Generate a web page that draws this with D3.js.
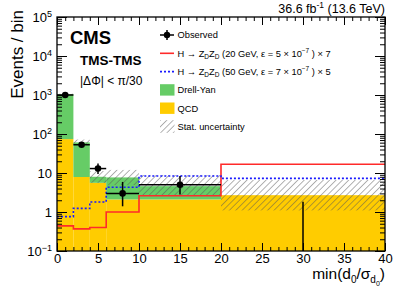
<!DOCTYPE html>
<html>
<head>
<meta charset="utf-8">
<script src="https://cdn.jsdelivr.net/npm/d3@7"></script>
<style>
  body { margin: 0; background: #fff; }
  text { font-family: "Liberation Sans", Arial, sans-serif; fill: #000; }
</style>
</head>
<body>
<script>
// bin edges of min(d0/sigma_d0)
var binEdges = [0, 2, 4, 6, 10, 20, 40];
// stacked backgrounds (events / bin)
var qcd = [74, 7.9, 5.6, 2.1, 2.1, 2.7];
var drellYan = [976, 53, 2.4, 5.6, 2.5, 0];
// stat. uncertainty band on total background
var statLo = [1020, 52, 5.6, 4.9, 2.7, 1.1];
var statHi = [1080, 72, 11.2, 12, 8.9, 6.6];
// signals
var sig20 = [0.44, 0.37, 0.40, 1.0, 2.6, 16.7];
var sig50 = [0.76, 1.24, 1.8, 4.3, 8.4, 7.3];
// observed data
var obsX = [1, 3, 5, 8, 15, 30];
var obsY = [1000, 53, 13, 3, 5, 0];
var obsDn = [968, 46, 9.4, 1.4, 2.8, 0];
var obsUp = [1032, 61, 17.6, 5.9, 8.4, 1.84];

var yDecades = [-1, 0, 1, 2, 3, 4, 5];
var xTicks = [0, 5, 10, 15, 20, 25, 30, 35, 40];

var W = 402, H = 289;
var pL = 57, pR = 385, pT = 17, pB = 251;

var x = d3.scaleLinear().domain([0, 40]).range([pL, pR]);
var y = d3.scaleLog().domain([0.1, 1e5]).range([pB, pT]);

var svg = d3.select("body").append("svg")
    .attr("width", W).attr("height", H);

var defs = svg.append("defs");
defs.append("clipPath").attr("id", "plotclip")
  .append("rect").attr("x", pL).attr("y", pT)
  .attr("width", pR - pL).attr("height", pB - pT);

var pat = defs.append("pattern").attr("id", "hatch")
    .attr("patternUnits", "userSpaceOnUse")
    .attr("width", 4.5).attr("height", 4.5)
    .attr("patternTransform", "rotate(45)");
pat.append("line").attr("x1", 0).attr("y1", 0).attr("x2", 0).attr("y2", 4.5)
    .attr("stroke", "#555").attr("stroke-width", 0.9);

var plot = svg.append("g").attr("clip-path", "url(#plotclip)");

var bins = d3.range(qcd.length).map(function(i) {
  return {x0: binEdges[i], x1: binEdges[i + 1], qcd: qcd[i], dy: drellYan[i],
          lo: statLo[i], hi: statHi[i]};
});

// QCD
plot.selectAll(".qcd").data(bins).enter().append("rect")
    .attr("x", function(d) { return x(d.x0); })
    .attr("width", function(d) { return x(d.x1) - x(d.x0); })
    .attr("y", function(d) { return y(d.qcd); })
    .attr("height", function(d) { return y(0.1) - y(d.qcd); })
    .attr("fill", "#ffcc00");

// Drell-Yan stacked on QCD
plot.selectAll(".dy").data(bins.filter(function(d) { return d.dy > 0; })).enter().append("rect")
    .attr("x", function(d) { return x(d.x0); })
    .attr("width", function(d) { return x(d.x1) - x(d.x0); })
    .attr("y", function(d) { return y(d.qcd + d.dy); })
    .attr("height", function(d) { return y(d.qcd) - y(d.qcd + d.dy); })
    .attr("fill", "#66cc66");

// stat. uncertainty
plot.selectAll(".stat").data(bins).enter().append("rect")
    .attr("x", function(d) { return x(d.x0); })
    .attr("width", function(d) { return x(d.x1) - x(d.x0); })
    .attr("y", function(d) { return y(d.hi); })
    .attr("height", function(d) { return y(d.lo) - y(d.hi); })
    .attr("fill", "url(#hatch)");

// signal step lines
function steps(vals) {
  var pts = vals.map(function(v, i) { return [binEdges[i], v]; });
  pts.push([binEdges[binEdges.length - 1], vals[vals.length - 1]]);
  return pts;
}
var stepLine = d3.line()
    .x(function(d) { return x(d[0]); })
    .y(function(d) { return y(d[1]); })
    .curve(d3.curveStepAfter);

plot.append("path").datum(steps(sig20))
    .attr("d", stepLine).attr("fill", "none")
    .attr("stroke", "#ff2a2a").attr("stroke-width", 1.6);
plot.append("path").datum(steps(sig50))
    .attr("d", stepLine).attr("fill", "none")
    .attr("stroke", "#1a1aff").attr("stroke-width", 1.6)
    .attr("stroke-dasharray", "2,2");

// observed
var obs = obsX.map(function(v, i) {
  return {x: v, x0: binEdges[i], x1: binEdges[i + 1], y: obsY[i], dn: obsDn[i], up: obsUp[i]};
});
var og = plot.append("g");
og.selectAll(".ev").data(obs).enter().append("line")
    .attr("x1", function(d) { return x(d.x); })
    .attr("x2", function(d) { return x(d.x); })
    .attr("y1", function(d) { return d.dn > 0 ? y(d.dn) : pB + 2; })
    .attr("y2", function(d) { return y(d.up); })
    .attr("stroke", "#000").attr("stroke-width", 1.5);
var nz = obs.filter(function(d) { return d.y > 0; });
og.selectAll(".eh").data(nz).enter().append("line")
    .attr("x1", function(d) { return x(d.x0); })
    .attr("x2", function(d) { return x(d.x1); })
    .attr("y1", function(d) { return y(d.y); })
    .attr("y2", function(d) { return y(d.y); })
    .attr("stroke", "#000").attr("stroke-width", 1.5);
og.selectAll(".dot").data(nz).enter().append("circle")
    .attr("cx", function(d) { return x(d.x); })
    .attr("cy", function(d) { return y(d.y); })
    .attr("r", 3.3).attr("fill", "#000");

// axes, ticks inward
var majY = yDecades.map(function(k) { return Math.pow(10, k); });
var minY = [];
yDecades.slice(0, -1).forEach(function(k) {
  for (var m = 2; m <= 9; m++) minY.push(m * Math.pow(10, k));
});
var minX = d3.range(0, 41).filter(function(v) { return v % 5 !== 0; });

function styleAxis(g) {
  g.select(".domain").remove();
  g.selectAll("line").attr("stroke", "#000").attr("stroke-width", 1);
}

svg.append("g").attr("transform", "translate(" + pL + ",0)")
    .call(d3.axisLeft(y).tickValues(minY).tickSize(-5).tickFormat(""))
    .call(styleAxis);
var yAx = svg.append("g").attr("transform", "translate(" + pL + ",0)")
    .call(d3.axisLeft(y).tickValues(majY).tickSize(-10).tickPadding(5).tickFormat(""))
    .call(styleAxis);
yAx.selectAll("text").each(function(d) {
  var k = Math.round(Math.log10(d));
  var t = d3.select(this).attr("font-size", "13px").attr("dy", "0.35em");
  if (k === 0) { t.text("1"); return; }
  if (k === 1) { t.text("10"); return; }
  t.text("10");
  t.append("tspan").attr("font-size", "9px").attr("dy", "-0.55em")
      .text(k < 0 ? "\u2212" + (-k) : String(k));
});

svg.append("g").attr("transform", "translate(" + pR + ",0)")
    .call(d3.axisRight(y).tickValues(minY).tickSize(-5).tickFormat(""))
    .call(styleAxis);
svg.append("g").attr("transform", "translate(" + pR + ",0)")
    .call(d3.axisRight(y).tickValues(majY).tickSize(-10).tickFormat(""))
    .call(styleAxis);

svg.append("g").attr("transform", "translate(0," + pB + ")")
    .call(d3.axisBottom(x).tickValues(minX).tickSize(-4).tickFormat(""))
    .call(styleAxis);
svg.append("g").attr("transform", "translate(0," + pB + ")")
    .call(d3.axisBottom(x).tickValues(xTicks).tickSize(-8).tickPadding(2))
    .call(styleAxis)
    .selectAll("text").attr("font-size", "13px").attr("dy", "0.75em");

svg.append("g").attr("transform", "translate(0," + pT + ")")
    .call(d3.axisTop(x).tickValues(minX).tickSize(-4).tickFormat(""))
    .call(styleAxis);
svg.append("g").attr("transform", "translate(0," + pT + ")")
    .call(d3.axisTop(x).tickValues(xTicks).tickSize(-8).tickFormat(""))
    .call(styleAxis);

svg.append("rect").attr("x", pL).attr("y", pT)
    .attr("width", pR - pL).attr("height", pB - pT)
    .attr("fill", "none").attr("stroke", "#000").attr("stroke-width", 1.3);

// axis titles
svg.append("text")
    .attr("transform", "translate(23," + (pT - 7) + ") rotate(-90)")
    .attr("text-anchor", "end").attr("font-size", "17px")
    .text("Events / bin");

var xl = svg.append("text").attr("x", pR).attr("y", 279)
    .attr("text-anchor", "end").attr("font-size", "15.5px");
xl.append("tspan").text("min(d");
xl.append("tspan").attr("font-size", "10px").attr("dy", 4).text("0");
xl.append("tspan").attr("dy", -4).text("/\u03c3");
xl.append("tspan").attr("font-size", "10px").attr("dy", 4).text("d");
xl.append("tspan").attr("font-size", "7px").attr("dy", 3).text("0");
xl.append("tspan").attr("dy", -7).text(")");

var lumi = svg.append("text").attr("x", pR).attr("y", 13)
    .attr("text-anchor", "end").attr("font-size", "12.5px");
lumi.append("tspan").text("36.6 fb");
lumi.append("tspan").attr("font-size", "8.5px").attr("dy", -5).text("-1");
lumi.append("tspan").attr("dy", 5).text(" (13.6 TeV)");

svg.append("text").attr("x", 70).attr("y", 43.5)
    .attr("font-size", "18.5px").attr("font-weight", "bold").text("CMS");
svg.append("text").attr("x", 80).attr("y", 65)
    .attr("font-size", "13.5px").attr("font-weight", "bold").text("TMS-TMS");
svg.append("text").attr("x", 80).attr("y", 85)
    .attr("font-size", "12px").text("|\u0394\u03a6| < \u03c0/30");

// legend
var lx = 160, ltx = 177.5, ly0 = 35, ldy = 18.3;
var leg = svg.append("g").attr("font-size", "9.3px");
function legText(i) {
  return leg.append("text").attr("x", ltx).attr("y", ly0 + i * ldy + 3.3).attr("font-size", "9.3px");
}
// observed
leg.append("line").attr("x1", lx).attr("x2", lx + 14).attr("y1", ly0).attr("y2", ly0)
    .attr("stroke", "#000").attr("stroke-width", 1.5);
leg.append("line").attr("x1", lx + 7).attr("x2", lx + 7).attr("y1", ly0 - 5).attr("y2", ly0 + 5)
    .attr("stroke", "#000").attr("stroke-width", 1.5);
leg.append("circle").attr("cx", lx + 7).attr("cy", ly0).attr("r", 3.2).attr("fill", "#000");
legText(0).text("Observed");

function sigLabel(t, mass, eps, scale) {
  t.append("tspan").text("H \u2192 Z");
  t.append("tspan").attr("font-size", "6.5px").attr("dy", 2.5).text("D");
  t.append("tspan").attr("dy", -2.5).text("Z");
  t.append("tspan").attr("font-size", "6.5px").attr("dy", 2.5).text("D");
  t.append("tspan").attr("dy", -2.5).text(" (" + mass + " GeV, \u03b5 = " + eps + " \u00d7 10");
  t.append("tspan").attr("font-size", "6.5px").attr("dy", -4).text("\u22127");
  t.append("tspan").attr("dy", 4).text(" ) \u00d7 " + scale);
}
leg.append("line").attr("x1", lx).attr("x2", lx + 14)
    .attr("y1", ly0 + ldy).attr("y2", ly0 + ldy)
    .attr("stroke", "#ff2a2a").attr("stroke-width", 1.6);
sigLabel(legText(1), 20, 5, 7);
leg.append("line").attr("x1", lx).attr("x2", lx + 14)
    .attr("y1", ly0 + 2 * ldy).attr("y2", ly0 + 2 * ldy)
    .attr("stroke", "#1a1aff").attr("stroke-width", 1.6).attr("stroke-dasharray", "2,2");
sigLabel(legText(2), 50, 7, 5);

leg.append("rect").attr("x", lx).attr("y", ly0 + 3 * ldy - 5.7)
    .attr("width", 14.5).attr("height", 11.4).attr("fill", "#66cc66");
legText(3).text("Drell-Yan");
leg.append("rect").attr("x", lx).attr("y", ly0 + 4 * ldy - 5.7)
    .attr("width", 14.5).attr("height", 11.4).attr("fill", "#ffcc00");
legText(4).text("QCD");
leg.append("rect").attr("x", lx).attr("y", ly0 + 5 * ldy - 6.3)
    .attr("width", 14.5).attr("height", 12.6).attr("fill", "url(#hatch)");
legText(5).text("Stat. uncertainty");
</script>
</body>
</html>
